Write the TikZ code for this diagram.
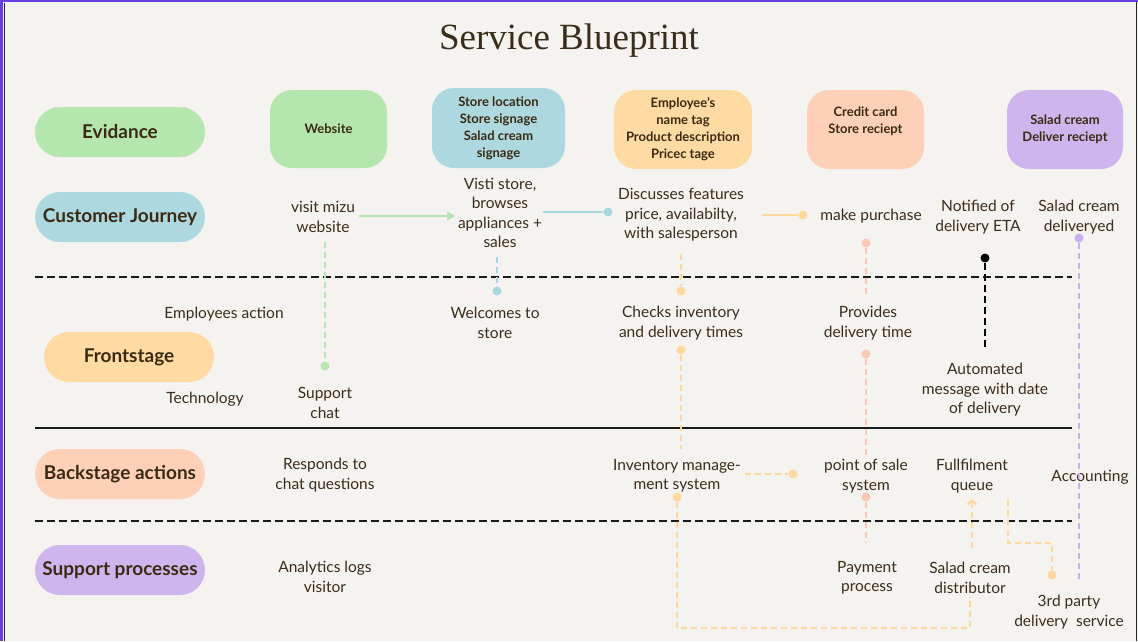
\documentclass[tikz,border=0pt]{standalone}
\usepackage{fontspec}
\setmainfont{Lato}
\newfontfamily\titlefont{Liberation Serif}
\usetikzlibrary{arrows.meta}
\definecolor{bg}{HTML}{F4F3F0}
\definecolor{frame}{HTML}{6A3FE0}
\definecolor{ink}{HTML}{3A2D1A}
\definecolor{pillink}{HTML}{3A2A12}
\definecolor{cgreen}{HTML}{B5E6AD}
\definecolor{cblue}{HTML}{ADD8E0}
\definecolor{corange}{HTML}{FFDBA3}
\definecolor{cpeach}{HTML}{FFD0B8}
\definecolor{cpurple}{HTML}{CFB5EE}
\definecolor{lgreen}{HTML}{B8E6B0}
\definecolor{lblue}{HTML}{A9D6DF}
\definecolor{lorange}{HTML}{FFD89E}
\definecolor{lpeach}{HTML}{FAC9B6}
\definecolor{lpurple}{HTML}{C7B0F0}
\begin{document}
\begin{tikzpicture}[x=1pt,y=-1pt,
  pill/.style={rounded corners=25pt, minimum width=170pt, minimum height=50pt, inner sep=0pt,
    text=pillink, font=\fontsize{19}{22}\selectfont\bfseries},
  evbox/.style={rounded corners=22pt, inner sep=0pt, align=center, text=pillink,
    font=\fontsize{13}{17}\selectfont\bfseries},
  txt/.style={align=center, text=ink, inner sep=1pt, font=\fontsize{15.5}{19.5}\selectfont},
  sep/.style={line width=2.5pt, black!90},
  sepdash/.style={sep, dash pattern=on 8pt off 4pt},
  cdash/.style={line width=2pt, dash pattern=on 6pt off 4pt},
  dot/.style={circle, inner sep=0pt, minimum size=9pt},
]
\useasboundingbox (0,0) rectangle (1138,641);
\fill[bg] (0,0) rectangle (1138,641);
\fill[frame] (0,0) rectangle (3,641);
\fill[frame] (0,0) rectangle (1138,2);
\draw[black!85, line width=1.5pt] (4.5,2.5) -- (4.5,641);
\draw[black!85, line width=1pt] (1136.5,2) -- (1136.5,641);

% title
\node[text=ink, font=\titlefont\fontsize{37}{42}\selectfont] (title) at (569,41) {Service Blueprint};

% category pills
\node[pill, fill=cgreen] (pEv) at (120,132) {Evidance};
\node[pill, fill=cblue] (pCj) at (120,217) {Customer Journey};
\node[pill, fill=corange] (pFs) at (129,357) {Frontstage};
\node[pill, fill=cpeach] (pBs) at (120,474) {Backstage actions};
\node[pill, fill=cpurple] (pSp) at (120,570) {Support processes};

% evidence boxes
\node[evbox, fill=cgreen, minimum width=117pt, minimum height=78pt] (ev1) at (328.5,129) {Website};
\node[evbox, fill=cblue, minimum width=133pt, minimum height=80pt] (ev2) at (498.5,128) {Store location\\Store signage\\Salad cream\\signage};
\node[evbox, fill=corange, minimum width=138pt, minimum height=79pt] (ev3) at (683,129.5) {Employee’s\\name tag\\Product description\\Pricec tage};
\node[evbox, fill=cpeach, minimum width=117pt, minimum height=79pt] (ev4) at (865.5,129.5) {Credit card\\Store reciept\\[2pt]};
\node[evbox, fill=cpurple, minimum width=116pt, minimum height=79pt] (ev5) at (1065,129.5) {Salad cream\\Deliver reciept};

% swimlane separators
\coordinate (s1a) at (35,277); \coordinate (s1b) at (1072,277);
\coordinate (s2a) at (35,428); \coordinate (s2b) at (1072,428);
\coordinate (s3a) at (35,521); \coordinate (s3b) at (1072,521);
\draw[sepdash] (s1a) -- (s1b);
\draw[sep] (s2a) -- (s2b);
\draw[sepdash] (s3a) -- (s3b);

% customer journey
\node[txt] (cj1) at (323,217) {visit mizu\\website};
\node[txt] (cj2) at (500,213) {Visti store,\\browses\\appliances +\\sales};
\node[txt] (cj3) at (681,215) {Discusses features\\price, availabilty,\\with salesperson};
\node[txt] (cj4) at (871,216) {make purchase};
\node[txt] (cj5) at (978,217) {Notified of\\delivery ETA};
\node[txt] (cj6) at (1079,217) {Salad cream\\deliveryed};

% frontstage
\node[txt] (fsA) at (224,314) {Employees action};
\node[txt] (fsT) at (205,399) {Technology};
\node[txt] (fs1) at (325,403) {Support\\chat};
\node[txt] (fs2) at (495,323) {Welcomes to\\store};
\node[txt] (fs3) at (681,323) {Checks inventory\\and delivery times};
\node[txt] (fs4) at (868,323) {Provides\\delivery time};
\node[txt] (fs5) at (985,390) {Automated\\message with date\\of delivery};

% backstage
\node[txt] (bs1) at (325,475) {Responds to\\chat questions};
\node[txt] (bs2) at (677,476) {Inventory manage-\\ment system};
\node[txt] (bs3) at (866,476) {point of sale\\system};
\node[txt] (bs4) at (972,476) {Fullfilment\\queue};
\node[txt] (bs5) at (1090,477) {Accounting};

% support
\node[txt] (sp1) at (325,577) {Analytics logs\\visitor};
\node[txt] (sp2) at (867,578) {Payment\\process};
\node[txt] (sp3) at (970,578) {Salad cream\\distributor};
\node[txt] (sp4) at (1069,612) {3rd party\\delivery\ \ service};

% dots
\node[dot, fill=lblue] (dB1) at (608,212) {};
\node[dot, fill=lorange] (dO1) at (803,215) {};
\node[dot, fill=lgreen] (dG1) at (325,366) {};
\node[dot, fill=lblue] (dB2) at (497,291) {};
\node[dot, fill=lorange] (dO2) at (681,291) {};
\node[dot, fill=lorange] (dO3) at (681,350) {};
\node[dot, fill=lpeach] (dP1) at (866,243) {};
\node[dot, fill=lpeach] (dP2) at (866,354) {};
\node[dot, fill=lpeach] (dP3) at (866,497) {};
\node[dot, fill=black] (dK1) at (985,258) {};
\node[dot, fill=lpurple] (dU1) at (1079,238) {};
\node[dot, fill=lorange] (dO4) at (793,474) {};
\node[dot, fill=lorange] (dO5) at (677,497) {};
\node[dot, fill=lorange] (dO6) at (1052,575) {};

% coordinates for free ends
\coordinate (gA) at (359,216); \coordinate (gB) at (455,216);
\coordinate (bA) at (543,212);
\coordinate (oA) at (762,215);
\coordinate (gV) at (325,242);
\coordinate (bV) at (497,257);
\coordinate (oV) at (681,254);
\coordinate (oV2) at (681,449);
\coordinate (pV1) at (866,295);
\coordinate (pV2) at (866,455);
\coordinate (pV3) at (866,543);
\coordinate (kV) at (985,348);
\coordinate (uV) at (1079,580);
\coordinate (oH) at (745,474);
\coordinate (oC1) at (677,628);
\coordinate (oC2) at (970,628);
\coordinate (oC3) at (970,597);
\coordinate (aUp1) at (972,548);
\coordinate (aUp2) at (972,499);
\coordinate (qA) at (1008,500);
\coordinate (qB) at (1008,543);
\coordinate (qC) at (1052,543);

% connectors
\draw[lgreen, line width=2.5pt, -{Triangle[length=8pt,width=9pt]}] (gA) -- (gB);
\draw[lblue, line width=2.5pt] (bA) -- (dB1);
\draw[lorange, line width=2.5pt] (oA) -- (dO1);
\draw[lgreen, cdash] (gV) -- (dG1);
\draw[lblue, cdash] (bV) -- (dB2);
\draw[lorange, cdash] (oV) -- (dO2);
\draw[lorange, cdash] (dO3) -- (oV2);
\draw[lpeach, cdash] (dP1) -- (pV1);
\draw[lpeach, cdash] (dP2) -- (pV2);
\draw[lpeach, cdash] (dP3) -- (pV3);
\draw[black, line width=2.5pt, dash pattern=on 7pt off 4pt] (dK1) -- (kV);
\draw[lpurple, cdash] (dU1) -- (uV);
\draw[lorange, cdash] (oH) -- (dO4);
\draw[lorange, cdash] (dO5) -- (oC1) -- (oC2) -- (oC3);
\draw[lorange, cdash, -{Straight Barb[length=4pt,width=9pt]}] (aUp1) -- (aUp2);
\draw[lorange, cdash] (qA) -- (qB) -- (qC) -- (dO6);
\end{tikzpicture}
\end{document}
